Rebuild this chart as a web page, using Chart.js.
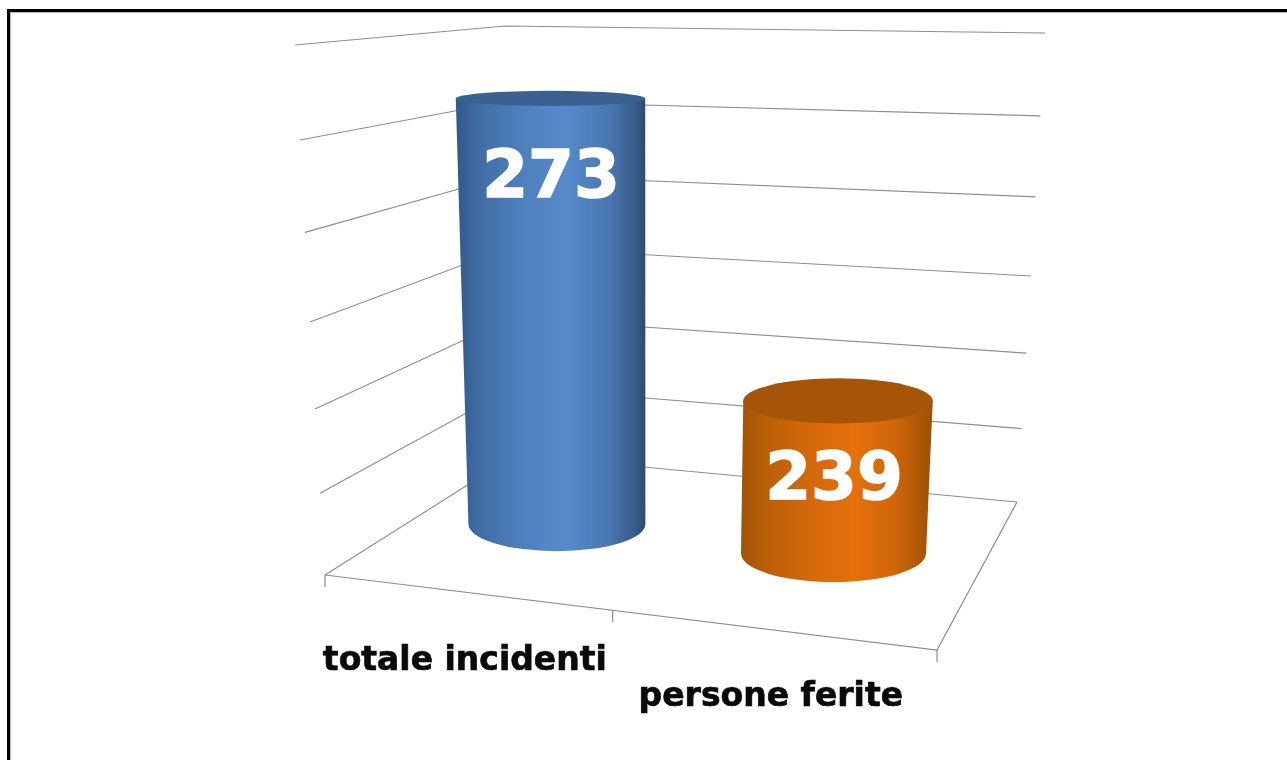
<!DOCTYPE html>
<html>
<head>
<meta charset="utf-8">
<script src="https://cdn.jsdelivr.net/npm/chart.js@4/dist/chart.umd.min.js"></script>
<style>
  html, body { margin: 0; padding: 0; background: #fff; overflow: hidden; }
  canvas { display: block; }
</style>
</head>
<body>
<canvas id="chart" width="1287" height="760"></canvas>
<script>
const categories = ['totale incidenti', 'persone ferite'];
const values = [273, 239];
const axisMin = 220;
const axisMax = 280;
const axisStep = 10;

const bodyStops = [
  [[0, '#30588a'], [0.12, '#3f6ca3'], [0.35, '#4f80bd'], [0.58, '#558acc'], [0.8, '#4a78b2'], [0.93, '#3a5f8f'], [1, '#2e4c74']],
  [[0, '#a35304'], [0.12, '#bb5f07'], [0.35, '#d4680a'], [0.58, '#e6700c'], [0.8, '#d0660a'], [0.93, '#b05805'], [1, '#9c4f04']]
];
const capColors = ['#3a6291', '#a55408'];

// perspective of the 3D box
const vanishX = 648;
const taper = 0.000155;
const depthSlope = 0.1026;
const tickStops = [0, 0.47, 1];

function ellipseRy(y) {
  return 2.5 + 0.047 * y;
}

function wallPoints(t) {
  return [
    { x: 325 - 30 * t, y: 575 - 482 * t - 48 * t * t },
    { x: 515 - 10 * t, y: 455 - 402 * t - 27 * t * t },
    { x: 1017 + 28 * t, y: 502 - 435 * t - 34 * t * t }
  ];
}

const floorLeft = { x: 325, y: 575 };
const floorRight = { x: 937, y: 650 };
const floorBack = { x: 1017, y: 502 };

function floorAt(f) {
  return {
    x: floorLeft.x + (floorRight.x - floorLeft.x) * f,
    y: floorLeft.y + (floorRight.y - floorLeft.y) * f
  };
}

const box3d = {
  id: 'box3d',
  beforeDraw(chart) {
    const ctx = chart.ctx;
    ctx.save();
    ctx.fillStyle = '#fff';
    ctx.fillRect(0, 0, chart.width, chart.height);
    ctx.fillStyle = '#b4b4b4';
    ctx.fillRect(10, 12, 1, chart.height - 12);
    ctx.fillRect(10, 12, chart.width - 10, 1);
    ctx.fillStyle = '#000';
    ctx.fillRect(7, 9, 3, chart.height - 9);
    ctx.fillRect(7, 9, chart.width - 7, 3);
    ctx.restore();
  },
  beforeDatasetsDraw(chart) {
    const ctx = chart.ctx;
    const yScale = chart.scales.y;
    ctx.save();
    ctx.strokeStyle = '#8e8e8e';
    ctx.lineWidth = 1.2;
    yScale.ticks.forEach(function(tick) {
      const t = (yScale.bottom - yScale.getPixelForValue(tick.value)) / (yScale.bottom - yScale.top);
      const pts = wallPoints(t);
      ctx.beginPath();
      ctx.moveTo(pts[0].x, pts[0].y);
      ctx.lineTo(pts[1].x, pts[1].y);
      ctx.lineTo(pts[2].x, pts[2].y);
      ctx.stroke();
    });
    // floor front and side edges
    ctx.beginPath();
    ctx.moveTo(floorLeft.x, floorLeft.y);
    ctx.lineTo(floorRight.x, floorRight.y);
    ctx.lineTo(floorBack.x, floorBack.y);
    ctx.stroke();
    // tick marks between categories
    tickStops.forEach(function(f) {
      const p = floorAt(f);
      ctx.beginPath();
      ctx.moveTo(p.x, p.y);
      ctx.lineTo(p.x, p.y + 12);
      ctx.stroke();
    });
    // category labels under the floor
    ctx.fillStyle = '#0a0a0a';
    ctx.strokeStyle = '#0a0a0a';
    ctx.lineWidth = 0.7;
    ctx.font = 'bold 33px "DejaVu Sans"';
    ctx.textAlign = 'center';
    ctx.textBaseline = 'alphabetic';
    categories.forEach(function(name, i) {
      const a = floorAt(tickStops[i]);
      const b = floorAt(tickStops[i + 1]);
      const labelX = (a.x + b.x) / 2 - 4;
      const labelY = (a.y + b.y) / 2 + 77.5 - i * 1.5;
      ctx.fillText(name, labelX, labelY);
      ctx.strokeText(name, labelX, labelY);
    });
    ctx.restore();
  },
  beforeDatasetDraw(chart, args) {
    const ctx = chart.ctx;
    const bars = args.meta.data;
    const firstX = bars[0].x;
    bars.forEach(function(bar, i) {
      const skew = (bar.x - firstX) * depthSlope;
      const topY = bar.y + skew;
      const baseY = bar.base + skew;
      const scale = 1 - taper * (baseY - topY);
      const topRx = bar.width / 2;
      const baseRx = topRx * scale;
      const baseX = vanishX + (bar.x - vanishX) * scale;

      const grad = ctx.createLinearGradient(bar.x - topRx, 0, bar.x + topRx, 0);
      bodyStops[i].forEach(function(s) { grad.addColorStop(s[0], s[1]); });

      ctx.save();
      ctx.fillStyle = grad;
      ctx.beginPath();
      ctx.moveTo(bar.x - topRx, topY);
      ctx.lineTo(baseX - baseRx, baseY);
      ctx.ellipse(baseX, baseY, baseRx, ellipseRy(baseY), 0, Math.PI, 0, true);
      ctx.lineTo(bar.x + topRx, topY);
      ctx.closePath();
      ctx.fill();

      ctx.fillStyle = capColors[i];
      ctx.beginPath();
      ctx.ellipse(bar.x, topY, topRx, ellipseRy(topY) * 1.06, 0, 0, Math.PI * 2);
      ctx.fill();

      const labelScale = 1 - taper * 100;
      const textX = vanishX + (bar.x - vanishX) * labelScale - 1;
      ctx.fillStyle = '#fff';
      ctx.strokeStyle = '#fff';
      ctx.lineWidth = 1.5;
      ctx.font = 'bold 66px "DejaVu Sans"';
      ctx.textAlign = 'center';
      ctx.textBaseline = 'alphabetic';
      ctx.fillText(String(values[i]), textX, topY + 98.5);
      ctx.strokeText(String(values[i]), textX, topY + 98.5);
      ctx.restore();
    });
    return false;
  }
};

new Chart(document.getElementById('chart'), {
  type: 'bar',
  data: {
    labels: categories,
    datasets: [{
      data: values,
      base: axisMin,
      backgroundColor: ['#4f81bd', '#e36c0a'],
      barPercentage: 1,
      categoryPercentage: 0.659
    }]
  },
  options: {
    responsive: false,
    animation: false,
    layout: { padding: { left: 406.75, right: 305.25, top: 42.15, bottom: 236 } },
    plugins: { legend: { display: false }, tooltip: { enabled: false } },
    scales: {
      x: { display: false },
      y: { display: false, min: axisMin, max: axisMax, ticks: { stepSize: axisStep } }
    }
  },
  plugins: [box3d]
});
</script>
</body>
</html>
